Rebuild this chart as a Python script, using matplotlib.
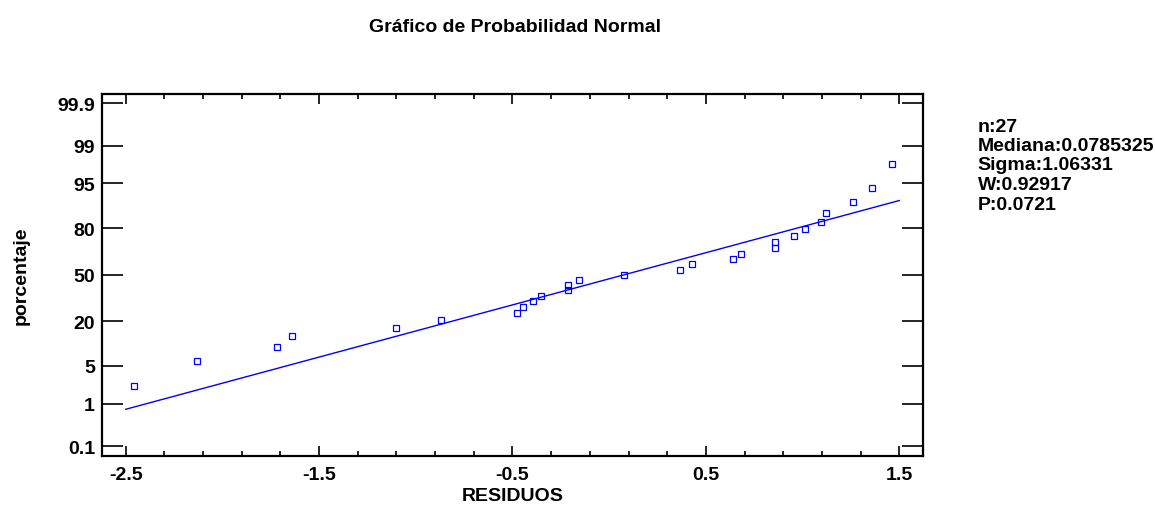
import numpy as np
import matplotlib
matplotlib.use("Agg")
import matplotlib.pyplot as plt
from matplotlib.ticker import FixedLocator
from statistics import NormalDist

# residuals, sorted
residuos = [-2.459, -2.133, -1.718, -1.639, -1.102, -0.868, -0.478, -0.447,
            -0.392, -0.354, -0.215, -0.215, -0.158, 0.075, 0.366, 0.428,
            0.639, 0.682, 0.859, 0.859, 0.957, 1.014, 1.094, 1.119,
            1.261, 1.360, 1.464]
# plotting position (percent) of each point
porcentaje = [2.29, 5.96, 9.63, 13.30, 16.97, 20.64, 24.31, 27.98, 31.65,
              35.32, 38.99, 42.66, 46.33, 50.00, 53.67, 57.34, 61.01, 64.68,
              68.35, 72.02, 75.69, 79.36, 83.03, 86.70, 90.37, 94.04, 97.71]

y_ticks = [0.1, 1, 5, 20, 50, 80, 95, 99, 99.9]
x_ticks = [-2.5, -1.5, -0.5, 0.5, 1.5]

n = 27
mediana = 0.0785325
sigma = 1.06331
w_stat = 0.92917
p_val = 0.0721

nd = NormalDist()


def to_z(p):
    return nd.inv_cdf(p / 100.0)


def main():
    plt.rcParams['font.family'] = ['Liberation Sans', 'DejaVu Sans']
    plt.rcParams['font.weight'] = 'bold'
    fs = 14

    fig = plt.figure(figsize=(11.55, 5.1), dpi=100)
    ax = fig.add_axes([0.0883, 0.1039, 0.7108, 0.7098])

    blue = '#0000ff'
    z = [to_z(p) for p in porcentaje]
    ax.plot(residuos, z, linestyle='none', marker='s', markersize=3.8,
            markerfacecolor='none', markeredgecolor=blue, markeredgewidth=0.9)

    # fitted line from the median and sigma
    xl = np.array([x_ticks[0], x_ticks[-1]])
    ax.plot(xl, (xl - mediana) / sigma, color=blue, lw=1.0)

    ax.set_xlim(-2.6226, 1.6226)
    ax.set_ylim(-3.267, 3.256)

    ax.xaxis.set_major_locator(FixedLocator(x_ticks))
    ax.xaxis.set_minor_locator(FixedLocator(np.arange(-2.5, 1.51, 0.2)))
    ax.set_xticklabels([f'{v:g}' for v in x_ticks])
    ax.yaxis.set_major_locator(FixedLocator([to_z(p) for p in y_ticks]))
    ax.set_yticklabels([f'{v:g}' for v in y_ticks])

    ax.tick_params(axis='x', which='major', direction='in', length=7, width=1.2,
                   top=True, labelsize=fs, pad=7)
    ax.tick_params(axis='x', which='minor', direction='in', length=3.5, width=1.2,
                   top=True)
    ax.tick_params(axis='y', which='major', direction='in', length=15, width=1.2,
                   right=True, labelsize=fs, pad=5)
    for s in ax.spines.values():
        s.set_linewidth(1.6)

    ax.set_xlabel('RESIDUOS', fontsize=fs, fontweight='bold', labelpad=3)
    ax.set_ylabel('porcentaje', fontsize=fs, fontweight='bold', labelpad=20)

    fig.text(0.446, 0.947, 'Gráfico de Probabilidad Normal', ha='center',
             va='center', fontsize=fs, fontweight='bold')

    stats = [f'n:{n}', f'Mediana:{mediana}', f'Sigma:{sigma}',
             f'W:{w_stat}', f'P:{p_val}']
    for i, s in enumerate(stats):
        fig.text(0.8465, 1 - (127 + i * 19.5) / 510, s, ha='left', va='center',
                 fontsize=fs, fontweight='bold')

    fig.savefig('out.png', dpi=100)


if __name__ == "__main__":
    main()
